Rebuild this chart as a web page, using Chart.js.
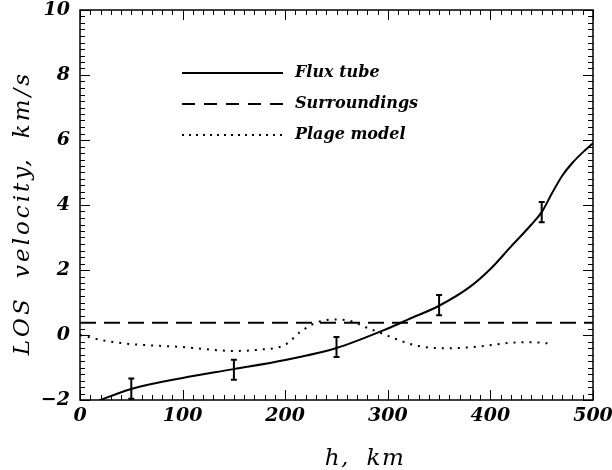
<!DOCTYPE html>
<html>
<head>
<meta charset="utf-8">
<script src="https://cdn.jsdelivr.net/npm/chart.js@4"></script>
<style>
  body { margin: 0; background: #fff; }
  canvas { display: block; }
</style>
</head>
<body>
<canvas id="losChart" width="612" height="470"></canvas>
<script>
// values
var xTicks = [0, 100, 200, 300, 400, 500];
var yTicks = [-2, 0, 2, 4, 6, 8, 10];
var xTitle = 'h, km';
var yTitle = 'LOS velocity, km/s';

var fluxH = [10, 50, 100, 150, 200, 250, 300, 320, 350, 380, 400, 420, 440, 450, 460, 470, 480, 490, 500];
var fluxV = [-2.12, -1.66, -1.32, -1.05, -0.77, -0.4, 0.2, 0.48, 0.9, 1.48, 2.03, 2.72, 3.4, 3.78, 4.36, 4.9, 5.3, 5.62, 5.9];

var surrH = [0, 500];
var surrV = [0.38, 0.38];

var plageH = [0, 25, 50, 100, 150, 175, 200, 215, 232, 250, 265, 280, 295, 310, 330, 360, 390, 420, 440, 460];
var plageV = [0.0, -0.18, -0.28, -0.37, -0.49, -0.45, -0.3, 0.1, 0.4, 0.48, 0.42, 0.22, 0.04, -0.15, -0.34, -0.41, -0.35, -0.24, -0.22, -0.27];

var errH = [50, 150, 250, 350, 450];
var errV = [-1.65, -1.07, -0.37, 0.92, 3.78];
var errSize = [0.31, 0.31, 0.31, 0.31, 0.31];

var serif = '"DejaVu Serif", serif';

function pts(xs, ys) {
    return xs.map(function (x, i) { return {x: x, y: ys[i]}; });
}

// frame, inward ticks on all four sides, error bars, legend, axis titles
var decor = {
    id: 'decor',
    afterDatasetsDraw: function (chart) {
        var ctx = chart.ctx;
        var a = chart.chartArea;
        var xs = chart.scales.x, ys = chart.scales.y;
        ctx.save();
        ctx.strokeStyle = '#000';

        // error bars
        ctx.lineWidth = 2;
        errH.forEach(function (h, i) {
            var px = xs.getPixelForValue(h);
            var lo = ys.getPixelForValue(errV[i] - errSize[i]);
            var hi = ys.getPixelForValue(errV[i] + errSize[i]);
            ctx.beginPath();
            ctx.moveTo(px, lo); ctx.lineTo(px, hi);
            ctx.moveTo(px - 3, lo); ctx.lineTo(px + 3, lo);
            ctx.moveTo(px - 3, hi); ctx.lineTo(px + 3, hi);
            ctx.stroke();
        });

        // box
        ctx.lineWidth = 1.5;
        ctx.strokeRect(a.left, a.top, a.right - a.left, a.bottom - a.top);

        // ticks
        ctx.lineWidth = 1;
        ctx.beginPath();
        for (var v = 0; v <= 500; v += 10) {
            var px = Math.round(xs.getPixelForValue(v)) + 0.5;
            var len = (v % 100 === 0) ? 10 : 5;
            ctx.moveTo(px, a.bottom); ctx.lineTo(px, a.bottom - len);
            ctx.moveTo(px, a.top); ctx.lineTo(px, a.top + len);
        }
        for (var k = -10; k <= 50; k++) {
            var py = Math.round(ys.getPixelForValue(k * 0.2)) + 0.5;
            var l2 = (k % 10 === 0) ? 10 : 5;
            ctx.moveTo(a.left, py); ctx.lineTo(a.left + l2, py);
            ctx.moveTo(a.right, py); ctx.lineTo(a.right - l2, py);
        }
        ctx.stroke();

        // legend
        var lx = a.left + 102, ly = a.top + 63, gap = 31;
        ctx.font = 'italic bold 16px ' + serif;
        ctx.fillStyle = '#000';
        ctx.textBaseline = 'middle';
        chart.data.datasets.forEach(function (ds, i) {
            var y = ly + i * gap;
            ctx.lineWidth = ds.borderWidth;
            ctx.setLineDash(ds.legendDash || []);
            ctx.beginPath();
            ctx.moveTo(lx, y); ctx.lineTo(lx + 101, y);
            ctx.stroke();
            ctx.setLineDash([]);
            ctx.fillText(ds.label, lx + 113, y);
        });

        // axis titles, widely spaced like the original
        ctx.font = 'italic 23px ' + serif;
        ctx.textAlign = 'center';
        ctx.wordSpacing = '8px';
        ctx.letterSpacing = '1.5px';
        ctx.fillText(xTitle, 365, 459);
        ctx.letterSpacing = '3px';
        ctx.translate(23, 213);
        ctx.rotate(-Math.PI / 2);
        ctx.fillText(yTitle, 0, 0);
        ctx.restore();
    }
};

var tickFont = {family: serif, size: 19, style: 'italic', weight: 'bold'};

new Chart(document.getElementById('losChart'), {
    type: 'line',
    data: {
        datasets: [{
            label: 'Flux tube',
            data: pts(fluxH, fluxV),
            borderColor: '#000',
            borderWidth: 2,
            pointRadius: 0,
            cubicInterpolationMode: 'monotone'
        }, {
            label: 'Surroundings',
            data: pts(surrH, surrV),
            borderColor: '#000',
            borderWidth: 2,
            borderDash: [16, 8],
            legendDash: [13, 9],
            pointRadius: 0
        }, {
            label: 'Plage model',
            data: pts(plageH, plageV),
            borderColor: '#000',
            borderWidth: 2,
            borderDash: [2, 6],
            legendDash: [2, 5],
            pointRadius: 0,
            cubicInterpolationMode: 'monotone'
        }]
    },
    options: {
        responsive: false,
        animation: false,
        layout: {autoPadding: false, padding: {top: 10, right: 19, left: 0, bottom: 0}},
        plugins: {
            legend: {display: false},
            tooltip: {enabled: false}
        },
        scales: {
            x: {
                type: 'linear',
                min: 0, max: 500,
                afterBuildTicks: function (s) { s.ticks = xTicks.map(function (v) { return {value: v}; }); },
                afterFit: function (s) { s.height = 70; s.paddingLeft = 0; s.paddingRight = 0; },
                ticks: {font: tickFont, color: '#000', padding: 5, maxRotation: 0},
                grid: {display: false, drawTicks: false},
                border: {display: false}
            },
            y: {
                type: 'linear',
                min: -2, max: 10,
                afterBuildTicks: function (s) { s.ticks = yTicks.map(function (v) { return {value: v}; }); },
                afterFit: function (s) { s.width = 80; s.paddingTop = 0; s.paddingBottom = 0; },
                ticks: {
                    font: tickFont, color: '#000', padding: 10,
                    callback: function (v) { return v < 0 ? '\u2212' + (-v) : '' + v; }
                },
                grid: {display: false, drawTicks: false},
                border: {display: false}
            }
        }
    },
    plugins: [decor]
});
</script>
</body>
</html>
